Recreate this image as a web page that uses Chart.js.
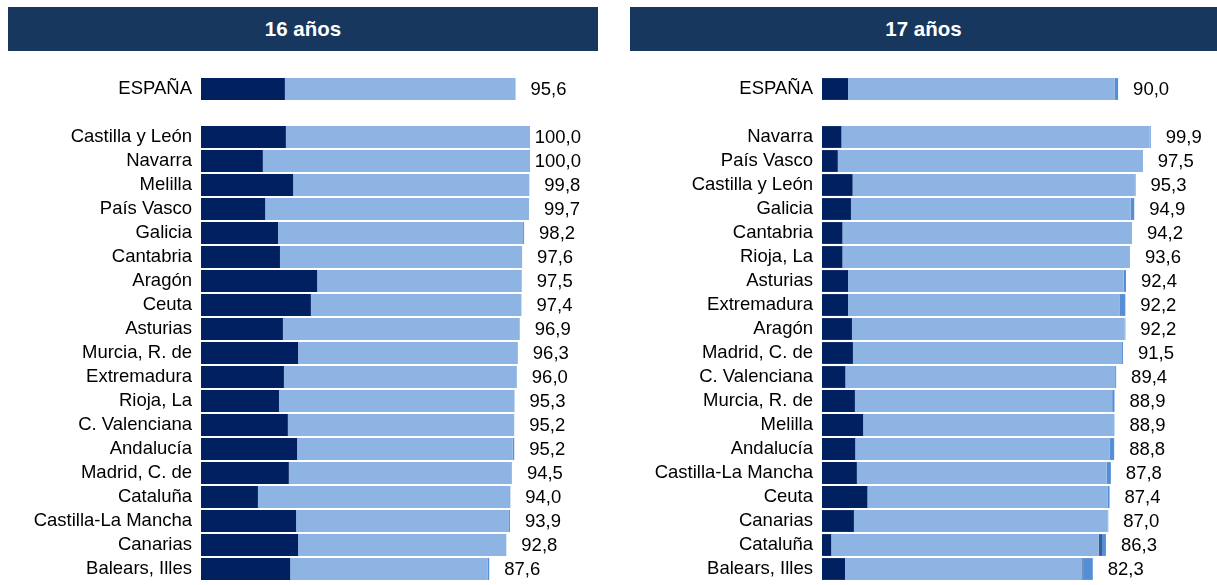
<!DOCTYPE html>
<html lang="es">
<head>
<meta charset="utf-8">
<script src="https://cdn.jsdelivr.net/npm/chart.js@4.4.1/dist/chart.umd.min.js"></script>
<style>
  html, body { margin: 0; padding: 0; background: #fff; }
  body { width: 1217px; height: 585px; position: relative; overflow: hidden; font-family: "Liberation Sans", Arial, sans-serif; }
  .cab { position: absolute; top: 7px; height: 44px; background: #17375e; color: #fff;
         font-weight: bold; font-size: 20.5px; line-height: 44px; text-align: center; }
  canvas { position: absolute; top: 0; }
</style>
</head>
<body>
<div class="cab" style="left:8px;width:590px;">16 años</div>
<div class="cab" style="left:630px;width:587px;">17 años</div>
<canvas id="c16" width="610" height="585" style="left:0"></canvas>
<canvas id="c17" width="597" height="585" style="left:620px"></canvas>
<script>
// Colores de los tramos (de base a extremo)
const colDark = "#002060";
const colLight = "#8eb4e3";
const colSlate = "#376092";
const colMed = "#558ed5";

// ---- 16 años ----
const labels16 = ["ESPAÑA", "", "Castilla y León", "Navarra", "Melilla", "País Vasco", "Galicia", "Cantabria",
  "Aragón", "Ceuta", "Asturias", "Murcia, R. de", "Extremadura", "Rioja, La", "C. Valenciana", "Andalucía",
  "Madrid, C. de", "Cataluña", "Castilla-La Mancha", "Canarias", "Balears, Illes"];
const total16 = [95.6, null, 100.0, 100.0, 99.8, 99.7, 98.2, 97.6, 97.5, 97.4, 96.9, 96.3, 96.0, 95.3, 95.2, 95.2,
  94.5, 94.0, 93.9, 92.8, 87.6];
const dark16 = [25.5, null, 25.8, 18.8, 28.0, 19.5, 23.4, 24.0, 35.3, 33.4, 24.9, 29.5, 25.2, 23.7, 26.4, 29.2,
  26.7, 17.3, 28.9, 29.5, 27.1];
const light16 = [70.0, null, 74.2, 81.2, 71.8, 80.2, 74.5, 73.6, 62.2, 64.0, 72.0, 66.8, 70.8, 71.6, 68.8, 65.5,
  67.8, 76.4, 64.7, 63.3, 60.1];
const slate16 = [0, null, 0, 0, 0, 0, 0, 0, 0, 0, 0, 0, 0, 0, 0, 0, 0, 0, 0, 0, 0];
const med16 = [0.1, null, 0, 0, 0, 0, 0.3, 0, 0, 0, 0, 0, 0, 0, 0, 0.5, 0, 0.3, 0.3, 0, 0.4];

// ---- 17 años ----
const labels17 = ["ESPAÑA", "", "Navarra", "País Vasco", "Castilla y León", "Galicia", "Cantabria", "Rioja, La",
  "Asturias", "Extremadura", "Aragón", "Madrid, C. de", "C. Valenciana", "Murcia, R. de", "Melilla", "Andalucía",
  "Castilla-La Mancha", "Ceuta", "Canarias", "Cataluña", "Balears, Illes"];
const total17 = [90.0, null, 99.9, 97.5, 95.3, 94.9, 94.2, 93.6, 92.4, 92.2, 92.2, 91.5, 89.4, 88.9, 88.9, 88.8,
  87.8, 87.4, 87.0, 86.3, 82.3];
const dark17 = [7.9, null, 5.9, 4.8, 9.3, 8.8, 6.2, 6.2, 7.9, 7.9, 9.1, 9.4, 7.1, 10.0, 12.5, 10.1,
  10.6, 13.8, 9.7, 2.8, 7.0];
const light17 = [81.0, null, 93.7, 92.5, 85.8, 85.0, 87.8, 87.2, 83.8, 82.5, 82.9, 81.8, 82.0, 78.2, 76.4, 77.4,
  75.9, 73.1, 77.1, 81.3, 72.1];
const slate17 = [0, null, 0, 0, 0, 0, 0, 0, 0, 0, 0, 0, 0, 0, 0, 0, 0, 0, 0, 1.0, 0.3];
const med17 = [1.1, null, 0.3, 0.2, 0.2, 1.1, 0.2, 0.2, 0.7, 1.8, 0.2, 0.3, 0.3, 0.7, 0, 1.3,
  1.3, 0.5, 0.2, 1.2, 2.9];

const fontFamily = '"Liberation Sans", Arial, sans-serif';
const fontSize = 18.5;

// Etiqueta del total a la derecha de cada barra
const totalLabels = {
  id: "totalLabels",
  afterDatasetsDraw(chart, args, opts) {
    const { ctx, scales: { x, y } } = chart;
    ctx.save();
    ctx.font = fontSize + "px " + fontFamily;
    ctx.fillStyle = "#000";
    ctx.textAlign = "right";
    ctx.textBaseline = "middle";
    opts.totals.forEach((v, i) => {
      if (v === null) return;
      ctx.fillText(v.toFixed(1).replace(".", ","), x.getPixelForValue(v) + 51, y.getPixelForValue(i) + 1);
    });
    ctx.restore();
  }
};

const makeChart = (canvas, labels, dark, light, slate, med, totals, axisWidth, padRight) => {
  const ds = (data, color) => ({
    data, backgroundColor: color, borderWidth: 0,
    barPercentage: 0.91, categoryPercentage: 1
  });
  return new Chart(canvas, {
    type: "bar",
    data: {
      labels,
      datasets: [ds(dark, colDark), ds(light, colLight), ds(slate, colSlate), ds(med, colMed)]
    },
    options: {
      indexAxis: "y",
      responsive: false,
      animation: false,
      layout: { padding: { top: 77, bottom: 4, left: 0, right: padRight } },
      scales: {
        x: { stacked: true, display: false, min: 0, max: 100 },
        y: {
          stacked: true,
          grid: { display: false, drawTicks: false },
          border: { display: false },
          ticks: { color: "#000", padding: 9, autoSkip: false, font: { family: fontFamily, size: fontSize } },
          afterFit: (scale) => {
            scale.width = axisWidth;
            scale.paddingTop = 0;
            scale.paddingBottom = 0;
          }
        }
      },
      plugins: {
        legend: { display: false },
        tooltip: { enabled: false },
        totalLabels: { totals }
      }
    },
    plugins: [totalLabels]
  });
};

makeChart(document.getElementById("c16"), labels16, dark16, light16, slate16, med16, total16, 201, 80);
makeChart(document.getElementById("c17"), labels17, dark17, light17, slate17, med17, total17, 202, 66);
</script>
</body>
</html>
